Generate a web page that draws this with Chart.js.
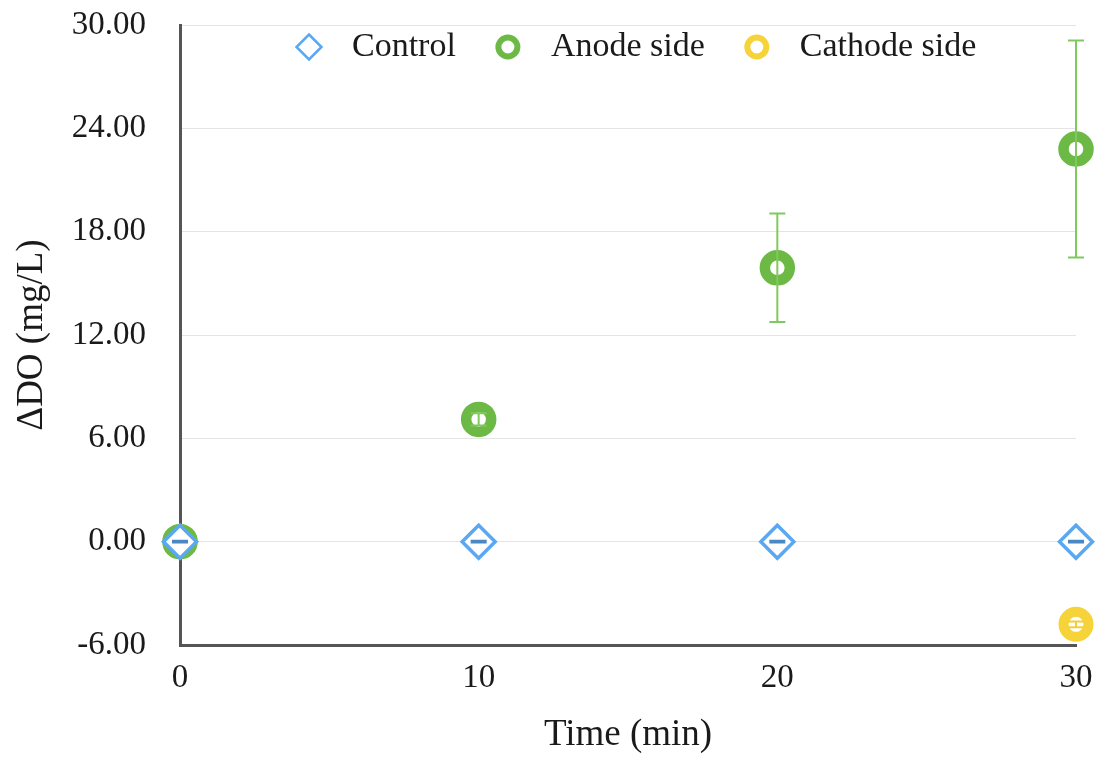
<!DOCTYPE html>
<html>
<head>
<meta charset="utf-8">
<script src="https://cdn.jsdelivr.net/npm/chart.js@4/dist/chart.umd.min.js"></script>
<style>
  html, body { margin: 0; padding: 0; background: #fff; }
  #wrap { width: 1099px; height: 757px; }
</style>
</head>
<body>
<div id="wrap"><canvas id="c" width="1099" height="757"></canvas></div>
<script>
// ---- data ----
const timeMin = [0, 10, 20, 30];
const controlDO = [0, 0, 0, 0];
const controlErr = [0.05, 0.05, 0.05, 0.05];
const anodeDO = [0, 7.1, 15.9, 22.8];
const anodeErr = [0, 0.35, 3.15, 6.3];
const cathodeDO = [0, null, null, -4.8];
const cathodeErr = [0, 0, 0, 0.17];
const yTicks = [-6, 0, 6, 12, 18, 24, 30];
const xTicks = [0, 10, 20, 30];
const seriesNames = ['Control', 'Anode side', 'Cathode side'];

const FONT = "'Liberation Serif', 'Times New Roman', serif";
const BLUE = '#5aa8f2', BLUE_ERR = '#4a88c4';
const GREEN = '#6cba45', GREEN_ERR = '#80c95c';
const YELLOW = '#f6d338', YELLOW_ERR = '#f3cf35';

function pts(vals) {
  return timeMin.map((t, i) => ({ x: t, y: vals[i] })).filter(p => p.y !== null);
}
function errs(vals, e) {
  return timeMin.map((t, i) => vals[i] === null ? null : e[i]).filter(v => v !== null);
}

const errorBars = {
  id: 'errorBars',
  afterDatasetsDraw(chart) {
    const ctx = chart.ctx, ys = chart.scales.y;
    chart.data.datasets.forEach((ds, di) => {
      const meta = chart.getDatasetMeta(di);
      ctx.save();
      ctx.strokeStyle = ds.errColor;
      ctx.lineWidth = ds.errWidth;
      meta.data.forEach((pt, i) => {
        const e = ds.err[i];
        if (!e) return;
        const v = ds.data[i].y;
        const yt = ys.getPixelForValue(v + e), yb = ys.getPixelForValue(v - e);
        const x = pt.x, cw = 8;
        ctx.beginPath();
        ctx.moveTo(x, yt); ctx.lineTo(x, yb);
        ctx.moveTo(x - cw, yt); ctx.lineTo(x + cw, yt);
        ctx.moveTo(x - cw, yb); ctx.lineTo(x + cw, yb);
        ctx.stroke();
      });
      ctx.restore();
    });
  }
};

const customLegend = {
  id: 'customLegend',
  afterDraw(chart) {
    const ctx = chart.ctx;
    ctx.save();
    ctx.font = '34px ' + FONT;
    ctx.textBaseline = 'middle';
    const textOffset = 43, itemGap = 52;
    let x = 309;
    const y = 47;
    chart.data.datasets.forEach(ds => {
      ctx.strokeStyle = ds.borderColor;
      ctx.fillStyle = '#fff';
      ctx.lineWidth = ds.legendBorder;
      ctx.beginPath();
      if (ds.pointStyle === 'rectRot') {
        const r = ds.legendRadius;
        ctx.moveTo(x, y - r); ctx.lineTo(x + r, y); ctx.lineTo(x, y + r); ctx.lineTo(x - r, y); ctx.closePath();
      } else {
        ctx.arc(x, y, ds.legendRadius, 0, Math.PI * 2);
      }
      ctx.fill(); ctx.stroke();
      ctx.fillStyle = '#1a1a1a';
      const w = ctx.measureText(ds.label).width;
      ctx.fillText(ds.label, x + textOffset, y);
      x += textOffset + w + itemGap;
    });
    ctx.restore();
  }
};

new Chart(document.getElementById('c'), {
  type: 'scatter',
  data: {
    datasets: [
      {
        label: seriesNames[0], data: pts(controlDO), err: errs(controlDO, controlErr),
        pointStyle: 'rectRot', pointRadius: 16.5, pointHoverRadius: 16.5, pointBorderWidth: 3.5,
        borderColor: BLUE, backgroundColor: '#fff', errColor: BLUE_ERR, errWidth: 2, clip: false,
        legendRadius: 12.5, legendBorder: 2.5
      },
      {
        label: seriesNames[1], data: pts(anodeDO), err: errs(anodeDO, anodeErr),
        pointStyle: 'circle', pointRadius: 12.5, pointHoverRadius: 12.5, pointBorderWidth: 10.5,
        borderColor: GREEN, backgroundColor: '#fff', errColor: GREEN_ERR, errWidth: 2, clip: false,
        legendRadius: 9.5, legendBorder: 6
      },
      {
        label: seriesNames[2], data: pts(cathodeDO), err: errs(cathodeDO, cathodeErr),
        pointStyle: 'circle', pointRadius: 12.5, pointHoverRadius: 12.5, pointBorderWidth: 10,
        borderColor: YELLOW, backgroundColor: '#fff', errColor: YELLOW_ERR, errWidth: 2, clip: false,
        legendRadius: 9.5, legendBorder: 6
      }
    ]
  },
  options: {
    responsive: false,
    animation: false,
    events: [],
    layout: { padding: { left: 0, right: 23, top: 25, bottom: 0 } },
    plugins: { legend: { display: false }, tooltip: { enabled: false } },
    scales: {
      x: {
        type: 'linear', min: 0, max: 30,
        afterBuildTicks(s) { s.ticks = xTicks.map(v => ({ value: v })); },
        afterFit(s) { s.height = 112; s.paddingLeft = 0; s.paddingRight = 0; },
        grid: { display: false, drawTicks: false },
        border: { display: true, color: '#555', width: 3 },
        ticks: { font: { family: FONT, size: 33 }, color: '#1a1a1a', padding: 14, maxRotation: 0 },
        title: { display: true, text: 'Time (min)', font: { family: FONT, size: 37 }, color: '#1a1a1a', padding: { top: 10, bottom: 0 } }
      },
      y: {
        min: -6, max: 30,
        afterBuildTicks(s) { s.ticks = yTicks.map(v => ({ value: v })); },
        afterFit(s) { s.width = 180; s.paddingTop = 0; s.paddingBottom = 0; },
        grid: { color: '#e4e4e4', lineWidth: 1, drawTicks: false },
        border: { display: true, color: '#555', width: 3 },
        ticks: { font: { family: FONT, size: 33 }, color: '#1a1a1a', padding: 34, callback: v => v.toFixed(2) },
        title: { display: true, text: 'ΔDO (mg/L)', font: { family: FONT, size: 37 }, color: '#1a1a1a', padding: { top: 10, bottom: 0 } }
      }
    }
  },
  plugins: [errorBars, customLegend]
});
</script>
</body>
</html>
